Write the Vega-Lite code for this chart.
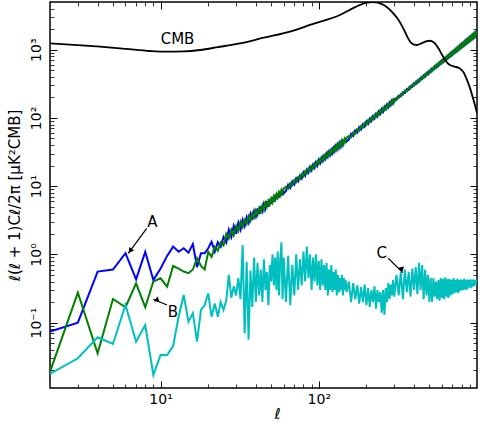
{
  "$schema": "https://vega.github.io/schema/vega-lite/v6.json",
  "width": 427,
  "height": 386,
  "autosize": {"type": "none"},
  "padding": {"left": 50, "top": 2, "right": 3, "bottom": 34},
  "background": "white",
  "config": {
    "view": {"stroke": "black", "strokeWidth": 1.5},
    "font": "DejaVu Sans",
    "axis": {"domain": false, "grid": false, "tickColor": "black", "labelColor": "black", "titleColor": "black", "labelFont": "DejaVu Sans", "titleFont": "DejaVu Sans"}
  },
  "datasets": {
    "ps": [
      {"l":2,"A":0.074,"B":0.019,"C":0.0177},
      {"l":3,"A":0.10,"B":0.274,"C":0.030},
      {"l":4,"A":0.56,"B":0.0355,"C":0.061},
      {"l":5,"A":0.60,"B":0.222,"C":0.0486},
      {"l":6,"A":1.04,"B":0.168,"C":0.181},
      {"l":7,"A":0.43,"B":0.377,"C":0.0525},
      {"l":8,"A":1.09,"B":0.168,"C":0.0923},
      {"l":9,"A":0.42,"B":0.40,"C":0.0171},
      {"l":10,"A":0.62,"B":0.446,"C":0.0335},
      {"l":11,"A":0.95,"B":0.336,"C":0.0335},
      {"l":12,"A":1.30,"B":0.676,"C":0.0454},
      {"l":13,"A":1.09,"B":0.62,"C":0.122},
      {"l":14,"A":1.23,"B":0.56,"C":0.254},
      {"l":15,"A":1.06,"B":0.53,"C":0.103},
      {"l":16,"A":1.42,"B":0.60,"C":0.137},
      {"l":17,"A":0.65,"B":0.88,"C":0.0525},
      {"l":18,"A":1.04,"B":0.676,"C":0.153},
      {"l":19,"A":1.04,"B":0.60,"C":0.181},
      {"l":20,"A":1.23,"B":1.09,"C":0.269},
      {"l":21,"A":1.53,"B":0.92,"C":0.122},
      {"l":22,"A":1.09,"B":1.30,"C":0.19},
      {"l":23,"A":1.5,"B":1.13,"C":0.122},
      {"l":24,"A":1.3,"B":1.5,"C":0.20},
      {"l":25,"A":1.8,"B":1.35,"C":0.153},
      {"l":26,"A":1.5,"B":2.0,"C":0.21},
      {"l":27,"A":2.3,"B":1.7,"C":0.50},
      {"l":28,"A":1.8,"B":2.3,"C":0.23},
      {"l":29,"A":2.6,"B":1.9,"C":0.34},
      {"l":30,"A":2.0,"B":2.6,"C":0.25},
      {"l":31,"A":2.9,"B":2.2,"C":0.45},
      {"l":32,"A":2.3,"B":3.0,"C":0.22},
      {"l":33,"A":3.2,"B":2.5,"C":1.37},
      {"l":34,"A":2.6,"B":3.2,"C":0.07},
      {"l":35,"A":3.5,"B":2.8,"C":0.78},
      {"l":36,"A":2.9,"B":3.6,"C":0.056},
      {"l":37,"A":3.9,"B":3.1,"C":0.58},
      {"l":38,"A":3.2,"B":4.0,"C":0.17},
      {"l":39,"A":4.3,"B":3.5,"C":0.9},
      {"l":40,"A":3.6,"B":4.4,"C":0.2},
      {"l":41,"A":4.7,"B":3.8,"C":0.75},
      {"l":42,"A":3.9,"B":4.8,"C":0.25},
      {"l":43,"A":5.1,"B":4.2,"C":0.6},
      {"l":44,"A":4.3,"B":5.2,"C":0.2},
      {"l":45,"A":5.5,"B":4.5,"C":0.85},
      {"l":46,"A":4.7,"B":5.7,"C":0.3},
      {"l":47,"A":6.0,"B":5.0,"C":0.55},
      {"l":48,"A":5.0,"B":6.1,"C":0.18},
      {"l":49,"A":6.4,"B":5.4,"C":0.7},
      {"l":50,"A":5.5,"B":6.6,"C":0.4},
      {"l":51,"A":6.9,"B":5.8,"C":1.0},
      {"l":52,"A":5.9,"B":7.1,"C":0.35},
      {"l":53,"A":7.4,"B":6.3,"C":0.9},
      {"l":54,"A":6.4,"B":7.6,"C":0.3},
      {"l":55,"A":7.9,"B":6.8,"C":1.1},
      {"l":56,"A":6.8,"B":8.1,"C":0.25},
      {"l":57,"A":8.4,"B":7.3,"C":0.8},
      {"l":58,"A":7.3,"B":8.7,"C":1.5},
      {"l":59,"A":8.9,"B":7.8,"C":0.22},
      {"l":60,"A":7.8,"B":9.2,"C":0.9},
      {"l":62,"A":8.5,"B":9.8,"C":0.2},
      {"l":64,"A":10.5,"B":9.2,"C":0.95},
      {"l":66,"A":9.4,"B":11.0,"C":0.18},
      {"l":68,"A":11.7,"B":10.3,"C":0.7},
      {"l":70,"A":10.6,"B":12.3,"C":0.25},
      {"l":72,"A":13.0,"B":11.5,"C":1.0},
      {"l":74,"A":11.8,"B":13.6,"C":0.3},
      {"l":76,"A":14.3,"B":12.7,"C":0.85},
      {"l":78,"A":13.0,"B":15.0,"C":0.35},
      {"l":80,"A":15.9,"B":14.0,"C":1.1},
      {"l":82,"A":14.3,"B":16.5,"C":0.4},
      {"l":84,"A":17.3,"B":15.4,"C":1.3},
      {"l":86,"A":15.7,"B":18.1,"C":0.45},
      {"l":88,"A":19.0,"B":16.8,"C":1.0},
      {"l":90,"A":17.1,"B":19.7,"C":0.3},
      {"l":92,"A":20.6,"B":18.4,"C":0.9},
      {"l":94,"A":18.6,"B":21.4,"C":0.4},
      {"l":96,"A":22.3,"B":19.9,"C":1.0},
      {"l":98,"A":20.1,"B":23.1,"C":0.35},
      {"l":100,"A":24.1,"B":21.5,"C":0.8},
      {"l":102,"A":21.8,"B":25.0,"C":0.3},
      {"l":104,"A":25.9,"B":23.1,"C":0.85},
      {"l":106,"A":23.4,"B":26.8,"C":0.35},
      {"l":108,"A":27.8,"B":24.8,"C":0.7},
      {"l":110,"A":25.2,"B":28.8,"C":0.3},
      {"l":112,"A":29.8,"B":26.6,"C":0.75},
      {"l":114,"A":27.0,"B":30.8,"C":0.25},
      {"l":116,"A":31.8,"B":28.4,"C":0.6},
      {"l":118,"A":28.8,"B":32.8,"C":0.3},
      {"l":120,"A":33.9,"B":30.3,"C":0.7},
      {"l":122,"A":30.6,"B":34.9,"C":0.28},
      {"l":124,"A":36.0,"B":32.2,"C":0.55},
      {"l":126,"A":32.6,"B":37.1,"C":0.3},
      {"l":128,"A":38.2,"B":34.2,"C":0.6},
      {"l":130,"A":34.5,"B":39.3,"C":0.25},
      {"l":132,"A":40.5,"B":36.3,"C":0.5},
      {"l":134,"A":36.6,"B":41.6,"C":0.28},
      {"l":136,"A":42.8,"B":38.4,"C":0.45},
      {"l":138,"A":38.6,"B":43.9,"C":0.3},
      {"l":140,"A":45.2,"B":40.6,"C":0.5},
      {"l":142,"A":40.8,"B":46.3,"C":0.25},
      {"l":144,"A":47.7,"B":42.8,"C":0.45},
      {"l":146,"A":43.0,"B":48.9,"C":0.3},
      {"l":148,"A":50.2,"B":45.1,"C":0.42},
      {"l":150,"A":45.2,"B":51.4,"C":0.28},
      {"l":155,"A":48.5,"B":54.5,"C":0.4},
      {"l":160,"A":58.5,"B":52.0,"C":0.2},
      {"l":165,"A":54.5,"B":61.5,"C":0.38},
      {"l":170,"A":65.5,"B":58.5,"C":0.22},
      {"l":175,"A":61.0,"B":68.5,"C":0.35},
      {"l":180,"A":73.0,"B":65.0,"C":0.19},
      {"l":185,"A":67.5,"B":76.0,"C":0.33},
      {"l":190,"A":80.5,"B":72.0,"C":0.2},
      {"l":195,"A":74.5,"B":84.0,"C":0.36},
      {"l":200,"A":89.0,"B":79.5,"C":0.18},
      {"l":205,"A":82.0,"B":92.5,"C":0.32},
      {"l":210,"A":97.5,"B":87.0,"C":0.17},
      {"l":215,"A":90.0,"B":101,"C":0.3},
      {"l":220,"A":106,"B":95.5,"C":0.2},
      {"l":225,"A":98,"B":110,"C":0.34},
      {"l":230,"A":115,"B":104,"C":0.16},
      {"l":235,"A":106,"B":119,"C":0.3},
      {"l":240,"A":125,"B":112,"C":0.2},
      {"l":245,"A":115,"B":129,"C":0.28},
      {"l":250,"A":135,"B":121,"C":0.14},
      {"l":255,"A":124,"B":139,"C":0.3},
      {"l":260,"A":145,"B":131,"C":0.13},
      {"l":265,"A":134,"B":149,"C":0.32},
      {"l":270,"A":156,"B":141,"C":0.2},
      {"l":275,"A":144,"B":160,"C":0.38},
      {"l":280,"A":167,"B":151,"C":0.22},
      {"l":285,"A":154,"B":171,"C":0.36},
      {"l":290,"A":178,"B":161,"C":0.25},
      {"l":295,"A":164,"B":183,"C":0.42},
      {"l":300,"A":190,"B":172,"C":0.24},
      {"l":310,"A":184,"B":199,"C":0.5},
      {"l":320,"A":211,"B":196,"C":0.25},
      {"l":330,"A":207,"B":224,"C":0.55},
      {"l":340,"A":237,"B":219,"C":0.22},
      {"l":350,"A":231,"B":251,"C":0.6},
      {"l":360,"A":264,"B":244,"C":0.28},
      {"l":370,"A":257,"B":278,"C":0.55},
      {"l":380,"A":292,"B":270,"C":0.24},
      {"l":390,"A":284,"B":307,"C":0.62},
      {"l":400,"A":322,"B":298,"C":0.3},
      {"l":410,"A":312,"B":338,"C":0.65},
      {"l":420,"A":353,"B":326,"C":0.26},
      {"l":430,"A":341,"B":370,"C":0.75},
      {"l":440,"A":386,"B":357,"C":0.3},
      {"l":450,"A":372,"B":403,"C":0.7},
      {"l":460,"A":420,"B":388,"C":0.22},
      {"l":470,"A":404,"B":437,"C":0.6},
      {"l":480,"A":455,"B":420,"C":0.25},
      {"l":490,"A":437,"B":473,"C":0.5},
      {"l":500,"A":492,"B":454,"C":0.2},
      {"l":510,"A":471,"B":510,"C":0.45},
      {"l":520,"A":529,"B":489,"C":0.2},
      {"l":530,"A":507,"B":549,"C":0.45},
      {"l":540,"A":569,"B":525,"C":0.24},
      {"l":550,"A":544,"B":589,"C":0.4},
      {"l":560,"A":609,"B":562,"C":0.22},
      {"l":570,"A":581,"B":630,"C":0.42},
      {"l":580,"A":651,"B":601,"C":0.21},
      {"l":590,"A":621,"B":672,"C":0.45},
      {"l":600,"A":694,"B":641,"C":0.23},
      {"l":610,"A":661,"B":716,"C":0.44},
      {"l":620,"A":738,"B":682,"C":0.22},
      {"l":630,"A":702,"B":761,"C":0.46},
      {"l":640,"A":784,"B":724,"C":0.24},
      {"l":650,"A":745,"B":807,"C":0.43},
      {"l":660,"A":831,"B":767,"C":0.23},
      {"l":670,"A":789,"B":855,"C":0.44},
      {"l":680,"A":879,"B":811,"C":0.25},
      {"l":690,"A":834,"B":904,"C":0.42},
      {"l":700,"A":929,"B":857,"C":0.26},
      {"l":710,"A":881,"B":954,"C":0.45},
      {"l":720,"A":979,"B":904,"C":0.27},
      {"l":730,"A":928,"B":1005,"C":0.42},
      {"l":740,"A":1031,"B":952,"C":0.28},
      {"l":750,"A":976,"B":1058,"C":0.44},
      {"l":760,"A":1085,"B":1001,"C":0.27},
      {"l":770,"A":1026,"B":1112,"C":0.42},
      {"l":780,"A":1140,"B":1052,"C":0.29},
      {"l":790,"A":1077,"B":1167,"C":0.43},
      {"l":800,"A":1196,"B":1104,"C":0.3},
      {"l":810,"A":1130,"B":1224,"C":0.42},
      {"l":820,"A":1252,"B":1156,"C":0.3},
      {"l":830,"A":1183,"B":1281,"C":0.44},
      {"l":840,"A":1310,"B":1210,"C":0.31},
      {"l":850,"A":1237,"B":1341,"C":0.42},
      {"l":860,"A":1371,"B":1265,"C":0.3},
      {"l":870,"A":1293,"B":1401,"C":0.43},
      {"l":880,"A":1431,"B":1321,"C":0.32},
      {"l":890,"A":1350,"B":1462,"C":0.42},
      {"l":900,"A":1492,"B":1378,"C":0.33},
      {"l":910,"A":1407,"B":1525,"C":0.43},
      {"l":920,"A":1557,"B":1437,"C":0.32},
      {"l":930,"A":1467,"B":1589,"C":0.42},
      {"l":940,"A":1621,"B":1497,"C":0.34},
      {"l":950,"A":1527,"B":1655,"C":0.43},
      {"l":960,"A":1688,"B":1558,"C":0.34},
      {"l":970,"A":1589,"B":1721,"C":0.42},
      {"l":980,"A":1754,"B":1620,"C":0.36},
      {"l":990,"A":1650,"B":1788,"C":0.42},
      {"l":1000,"A":1800,"B":1720,"C":0.38}
    ],
    "cmb": [
      {"l":2,"v":1240},{"l":3,"v":1170},{"l":4.14,"v":1107},{"l":6,"v":1030},{"l":8.57,"v":957},
      {"l":10.9,"v":935},{"l":14,"v":945},{"l":17.75,"v":990},{"l":23,"v":1090},{"l":31.8,"v":1240},
      {"l":45,"v":1500},{"l":65.8,"v":1837},{"l":90,"v":2350},{"l":136,"v":3226},{"l":170,"v":4200},
      {"l":200,"v":4900},{"l":220,"v":5000},{"l":244,"v":4780},{"l":270,"v":4200},{"l":296,"v":3408},
      {"l":320,"v":2700},{"l":342,"v":2056},{"l":360,"v":1600},{"l":378,"v":1310},{"l":400,"v":1190},
      {"l":417,"v":1172},{"l":445,"v":1240},{"l":475,"v":1320},{"l":504,"v":1353},{"l":540,"v":1250},
      {"l":570,"v":1050},{"l":600,"v":850},{"l":630,"v":700},{"l":670,"v":600},{"l":720,"v":565},
      {"l":770,"v":540},{"l":820,"v":470},{"l":860,"v":370},{"l":900,"v":280},{"l":950,"v":184},{"l":1000,"v":118}
    ],
    "notes": [
      {"t":"A","l":8.89,"v":2.54},
      {"t":"B","l":11.98,"v":0.122},
      {"t":"C","l":250,"v":0.876},
      {"t":"CMB","l":12.8,"v":1200}
    ],
    "arrows": [
      {"a":"A","l":8.17,"v":2.41,"l2":6.25,"v2":1.037,"hl":6.42,"hv":1.125},
      {"a":"B","l":10.98,"v":0.181,"l2":9.0,"v2":0.2196,"hl":9.38,"hv":0.213},
      {"a":"C","l":275,"v":0.876,"l2":339,"v2":0.539,"hl":329,"hv":0.619}
    ]
  },
  "layer": [
    {
      "data": {"name": "ps"},
      "transform": [{"fold": ["A", "B", "C"], "as": ["s", "v"]}],
      "mark": {"type": "line", "strokeWidth": 2, "clip": true},
      "encoding": {
        "x": {"field": "l", "type": "quantitative",
          "scale": {"type": "log", "domain": [2, 1000], "nice": false},
          "axis": {"orient": "bottom", "values": [10, 100], "labelExpr": "datum.value == 10 ? '10¹' : '10²'",
            "tickSize": -7, "tickWidth": 1, "labelPadding": 11, "labelFontSize": 14, "labelFlush": false, "labelOverlap": false,
            "title": "ℓ", "titleFontSize": 15, "titleFontStyle": "italic", "titleFontWeight": "normal",
            "titleX": 227, "titleY": 25, "titleBaseline": "middle"}},
        "y": {"field": "v", "type": "quantitative",
          "scale": {"type": "log", "domain": [0.011, 5000], "nice": false},
          "axis": {"orient": "left", "values": [0.1, 1, 10, 100, 1000],
            "labelExpr": "datum.value < 0.5 ? '10⁻¹' : datum.value < 5 ? '10⁰' : datum.value < 50 ? '10¹' : datum.value < 500 ? '10²' : '10³'",
            "labelAngle": -90, "labelAlign": "center", "labelBaseline": "alphabetic", "tickSize": -7, "tickWidth": 1,
            "labelPadding": 17, "labelFontSize": 14, "labelFlush": false, "labelOverlap": false,
            "title": "ℓ(ℓ + 1)Cℓ/2π [μK²CMB]", "titleFontSize": 15, "titleFontWeight": "normal",
            "titleX": -36, "titleBaseline": "middle", "titleAngle": -90}},
        "color": {"field": "s", "type": "nominal",
          "scale": {"domain": ["A", "B", "C"], "range": ["#0000ff", "#008000", "#00bfbf"]}, "legend": null},
        "order": {"field": "l", "type": "quantitative"}
      }
    },
    {
      "data": {"name": "cmb"},
      "mark": {"type": "line", "color": "black", "strokeWidth": 1.8, "interpolate": "monotone", "clip": true},
      "encoding": {
        "x": {"field": "l", "type": "quantitative",
          "scale": {"type": "log", "domain": [2, 1000], "nice": false},
          "axis": {"orient": "bottom", "values": [3,4,5,6,7,8,9,20,30,40,50,60,70,80,90,200,300,400,500,600,700,800,900],
            "labels": false, "tickSize": -4, "tickWidth": 0.8, "title": null}},
        "y": {"field": "v", "type": "quantitative",
          "scale": {"type": "log", "domain": [0.011, 5000], "nice": false},
          "axis": {"orient": "left", "values": [0.02,0.03,0.04,0.05,0.06,0.07,0.08,0.09,0.2,0.3,0.4,0.5,0.6,0.7,0.8,0.9,2,3,4,5,6,7,8,9,20,30,40,50,60,70,80,90,200,300,400,500,600,700,800,900,2000,3000,4000],
            "labels": false, "tickSize": -4, "tickWidth": 0.8, "title": null}}
      }
    },
    {
      "data": {"name": "notes"},
      "mark": {"type": "text", "fontSize": 15, "color": "black", "align": "center", "baseline": "alphabetic", "font": "DejaVu Sans"},
      "encoding": {
        "x": {"field": "l", "type": "quantitative",
          "scale": {"type": "log", "domain": [2, 1000], "nice": false},
          "axis": {"orient": "top", "values": [10, 100], "labels": false, "tickSize": -7, "tickWidth": 1, "title": null}},
        "y": {"field": "v", "type": "quantitative",
          "scale": {"type": "log", "domain": [0.011, 5000], "nice": false},
          "axis": {"orient": "right", "values": [0.1, 1, 10, 100, 1000], "labels": false, "tickSize": -7, "tickWidth": 1, "title": null}},
        "text": {"field": "t"}
      }
    },
    {
      "data": {"name": "arrows"},
      "mark": {"type": "rule", "color": "black", "strokeWidth": 1.2},
      "encoding": {
        "x": {"field": "l", "type": "quantitative",
          "scale": {"type": "log", "domain": [2, 1000], "nice": false},
          "axis": {"orient": "top", "values": [3,4,5,6,7,8,9,20,30,40,50,60,70,80,90,200,300,400,500,600,700,800,900],
            "labels": false, "tickSize": -4, "tickWidth": 0.8, "title": null}},
        "y": {"field": "v", "type": "quantitative",
          "scale": {"type": "log", "domain": [0.011, 5000], "nice": false},
          "axis": {"orient": "right", "values": [0.02,0.03,0.04,0.05,0.06,0.07,0.08,0.09,0.2,0.3,0.4,0.5,0.6,0.7,0.8,0.9,2,3,4,5,6,7,8,9,20,30,40,50,60,70,80,90,200,300,400,500,600,700,800,900,2000,3000,4000],
            "labels": false, "tickSize": -4, "tickWidth": 0.8, "title": null}},
        "x2": {"field": "l2"},
        "y2": {"field": "v2"}
      }
    },
    {
      "data": {"name": "arrows"},
      "mark": {"type": "point", "shape": "triangle-up", "filled": true, "color": "black", "size": 36, "opacity": 1},
      "encoding": {
        "x": {"field": "hl", "type": "quantitative",
          "scale": {"type": "log", "domain": [2, 1000], "nice": false}, "axis": null},
        "y": {"field": "hv", "type": "quantitative",
          "scale": {"type": "log", "domain": [0.011, 5000], "nice": false}, "axis": null},
        "angle": {"field": "a", "type": "nominal", "scale": {"domain": ["A", "B", "C"], "range": [217, 287, 135]}, "legend": null}
      }
    }
  ],
  "resolve": {"axis": {"x": "independent", "y": "independent"}}
}
